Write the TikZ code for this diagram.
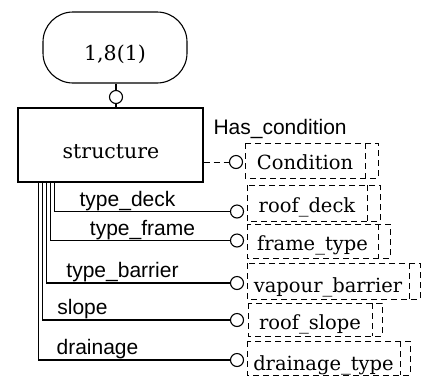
\documentclass[tikz,border=0pt]{standalone}
\usepackage{fontspec}
\newfontfamily\typefont{DejaVu Serif}
\newfontfamily\rolefont{Liberation Sans}

% Enumeration type: dashed box with a second dashed line on its right side.
% #1 name, #2 left, #3 top, #4 inner right, #5 outer right, #6 bottom, #7 text, #8 baseline
\newcommand\enumbox[8]{%
  \draw[dashline] (#2,#3) rectangle (#5,#6);
  \draw[dashline] (#4,#3) -- (#4,#6);
  \node[typetext] (#1) at ({(#2+#4)/2},#8) {#7};
}

\begin{document}
\begin{tikzpicture}[x=1pt,y=-1pt,
  line width=1.1pt,
  ring/.style={circle, draw, line width=1.1pt, minimum size=13pt, inner sep=0pt},
  dashline/.style={dash pattern=on 6pt off 4pt, line width=1pt},
  typetext/.style={font=\typefont\fontsize{19.5}{20}\selectfont, anchor=base, inner sep=0pt},
  entitytext/.style={font=\typefont\fontsize{20.5}{21}\selectfont, anchor=base, inner sep=0pt},
  rolelabel/.style={font=\rolefont\fontsize{21}{22}\selectfont, anchor=base, inner sep=0pt}]
\useasboundingbox (0,0) rectangle (422,376);

% page reference and entity
\node[draw, rounded corners=30pt, minimum width=144pt, minimum height=71pt, inner sep=0pt]
  (ref) at (115,47.5) {};
\node[entitytext] (reftext) at (115,60) {1,8(1)};
\node[draw, minimum width=185pt, minimum height=74pt, inner sep=0pt]
  (struct) at (110.5,145) {};
\node[entitytext] (structtext) at (111,158) {structure};

% link between page reference and entity
\node[ring] (c0) at (116,97) {};
\draw (c0.north) -- (c0.north |- ref.south);
\draw (c0.south) -- (c0.south |- struct.north);

% attribute rings
\node[ring] (r-cond)    at (236,162)   {};
\node[ring] (r-deck)    at (237,211.5) {};
\node[ring] (r-frame)   at (237,240.5) {};
\node[ring] (r-barrier) at (237,283)   {};
\node[ring] (r-slope)   at (237,320)   {};
\node[ring] (r-drain)   at (237,360)   {};

% type boxes
\enumbox{cond}{245}{143}{365}{378}{178}{Condition}{169}
\enumbox{deck}{247}{185}{367}{380}{221}{roof\_deck}{212.5}
\enumbox{frame}{247}{224}{378}{390}{258}{frame\_type}{250}
\enumbox{barrier}{247}{263}{409}{420}{299}{vapour\_barrier}{292}
\enumbox{slope}{248}{303}{372}{382}{336}{roof\_slope}{329.5}
\enumbox{drain}{247}{341}{400}{410}{375}{drainage\_type}{370}

% optional attribute
\draw[dashline] (struct.east |- r-cond) -- (r-cond.west);
\node[rolelabel, anchor=base west] (l-cond) at (213,134) {Has\_condition};

% mandatory attributes
\draw ([xshift=37pt]struct.south west) |- (r-deck.west);
\draw ([xshift=33pt]struct.south west) |- (r-frame.west);
\draw ([xshift=29pt]struct.south west) |- (r-barrier.west);
\draw ([xshift=25pt]struct.south west) |- (r-slope.west);
\draw ([xshift=21pt]struct.south west) |- (r-drain.west);

\node[rolelabel] (l-deck)    at (127.5,206.5) {type\_deck};
\node[rolelabel] (l-frame)   at (142.5,235.5) {type\_frame};
\node[rolelabel] (l-barrier) at (122.5,277)   {type\_barrier};
\node[rolelabel] (l-slope)   at (82.5,314)    {slope};
\node[rolelabel] (l-drain)   at (97.5,354)    {drainage};
\end{tikzpicture}
\end{document}
